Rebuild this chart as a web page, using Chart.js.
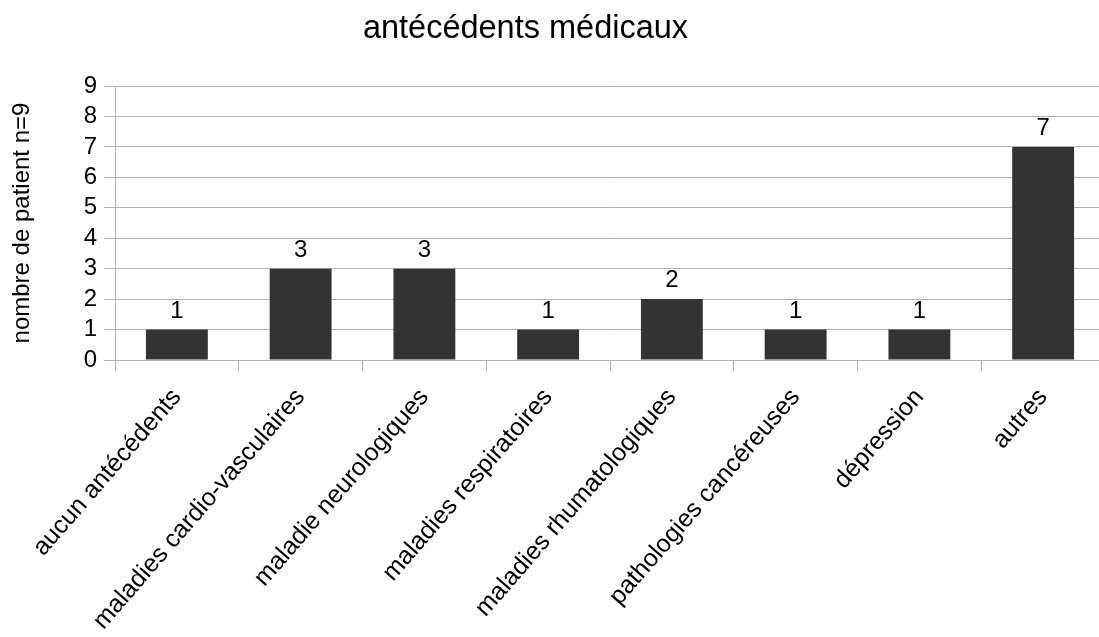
<!DOCTYPE html>
<html>
<head>
<meta charset="utf-8">
<script src="https://cdn.jsdelivr.net/npm/chart.js@4"></script>
<style>
  html, body { margin: 0; padding: 0; background: #ffffff; overflow: hidden; }
  #wrap { position: relative; width: 1099px; height: 637px; overflow: hidden; }
  #box { position: absolute; left: 0; top: 0; width: 1106px; height: 637px; }
  #title { position: absolute; left: 0; top: 11px; width: 1051px; text-align: center;
           font-family: "Liberation Sans", Arial, sans-serif; font-size: 32.5px; line-height: 32px; color: #000; }
</style>
</head>
<body>
<div id="wrap">
  <div id="box"><canvas id="c" width="1106" height="637"></canvas></div>
  <div id="title">antécédents médicaux</div>
</div>
<script>
const categories = [
  "aucun antécédents",
  "maladies cardio-vasculaires",
  "maladie neurologiques",
  "maladies respiratoires",
  "maladies rhumatologiques",
  "pathologies cancéreuses",
  "dépression",
  "autres"
];
const patientCounts = [1, 3, 3, 1, 2, 1, 1, 7];
const yTickValues = [0, 1, 2, 3, 4, 5, 6, 7, 8, 9];
const yAxisTitle = "nombre de patient n=9";

const FONT = "'Liberation Sans', Arial, sans-serif";
const gridColor = "#b3b3b3";

const valueLabels = {
  id: "valueLabels",
  afterDatasetsDraw(chart) {
    const ctx = chart.ctx;
    const meta = chart.getDatasetMeta(0);
    ctx.save();
    ctx.font = "24px " + FONT;
    ctx.fillStyle = "#000";
    ctx.textAlign = "center";
    ctx.textBaseline = "alphabetic";
    meta.data.forEach((bar, i) => {
      ctx.fillText(String(chart.data.datasets[0].data[i]), bar.x, bar.y - 12);
    });
    ctx.restore();
  }
};

new Chart(document.getElementById("c"), {
  type: "bar",
  data: {
    labels: categories,
    datasets: [{
      data: patientCounts,
      backgroundColor: "#333333",
      borderWidth: 0,
      categoryPercentage: 1.0,
      barPercentage: 0.5
    }]
  },
  options: {
    responsive: false,
    animation: false,
    devicePixelRatio: 1,
    layout: { padding: { top: 86, left: 0, right: 1, bottom: 0 } },
    plugins: {
      legend: { display: false },
      title: { display: false },
      tooltip: { enabled: false }
    },
    scales: {
      x: {
        type: "category",
        offset: true,
        grid: {
          offset: true,
          drawOnChartArea: false,
          drawTicks: true,
          tickLength: 11,
          color: gridColor,
          lineWidth: 1
        },
        border: { color: gridColor, width: 1 },
        ticks: {
          color: "#000",
          font: { family: FONT, size: 25 },
          minRotation: 49,
          maxRotation: 49,
          padding: 12,
          autoSkip: false
        },
        afterFit(scale) { scale.height = 277; }
      },
      y: {
        min: 0,
        max: 9,
        afterBuildTicks(scale) { scale.ticks = yTickValues.map(v => ({ value: v })); },
        grid: {
          color: gridColor,
          lineWidth: 1,
          drawTicks: true,
          tickLength: 11
        },
        border: { color: gridColor, width: 1 },
        ticks: {
          color: "#000",
          font: { family: FONT, size: 24 },
          padding: 7,
          autoSkip: false,
          stepSize: 1
        },
        title: {
          display: true,
          text: yAxisTitle,
          color: "#000",
          font: { family: FONT, size: 24 },
          padding: { top: 8, bottom: 0 }
        },
        afterFit(scale) { scale.width = 115; }
      }
    }
  },
  plugins: [valueLabels]
});
</script>
</body>
</html>
